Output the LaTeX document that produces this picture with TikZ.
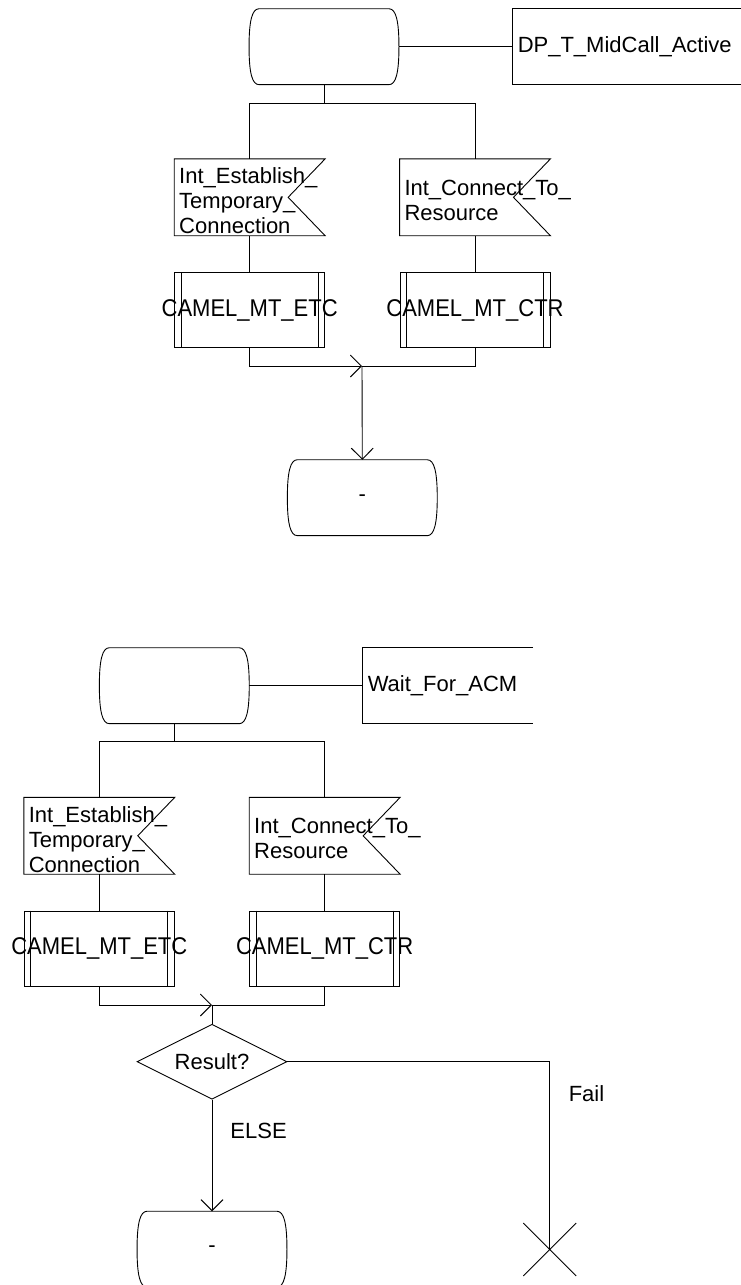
\documentclass[tikz,border=0pt]{standalone}
\usepackage{graphicx}
\usepackage{fontspec}
\setmainfont{Liberation Sans}
\usetikzlibrary{positioning,arrows.meta,shapes.geometric,shapes.misc}

\newcommand{\proctext}[1]{\makebox[0pt]{\scalebox{1}[1.1]{#1}}}

\begin{document}
\begin{tikzpicture}[
  x=1pt, y=-1pt,
  font=\fontsize{22}{25}\selectfont,
  line width=0.9pt,
  stsym/.style={rectangle, minimum width=149, minimum height=75, inner sep=0pt},
  nameb/.style={rectangle, minimum height=75, inner xsep=5pt, inner ysep=0pt,
    text width=#1, align=left, anchor=west},
  insig/.style={rectangle, minimum width=150, minimum height=76,
    inner xsep=4.5pt, inner ysep=0pt, text width=141pt, align=left},
  proc/.style={draw, rectangle, minimum width=150, minimum height=75, inner sep=0pt},
  dec/.style={draw, diamond, aspect=2, minimum width=150, minimum height=75,
    inner sep=1pt},
  endx/.style={draw, cross out, minimum size=52, inner sep=0pt},
  lbl/.style={inner sep=0pt, anchor=west},
  arr/.style={-{Straight Barb[length=11pt, width=22pt]}}
]
\useasboundingbox (0,0) rectangle (740,1285);

% Upper part
\node[stsym] (s1) at (324,46.7) {};
\node[nameb=219pt] (b1) at (512.3,46.7) {DP\_T\_MidCall\_Active};
\coordinate (j1) at (324,103.3);
\node[insig] (in1a) at (249.7,197.3)
  {\rule{0pt}{23pt}Int\_Establish\_\\Temporary\_\\Connection};
\node[insig] (in1b) at (475,197.3) {\rule{0pt}{21pt}Int\_Connect\_To\_\\Resource};
\node[proc] (pr1a) at (249.7,310) {\proctext{CAMEL\_MT\_ETC}};
\node[proc] (pr1b) at (475,310) {\proctext{CAMEL\_MT\_CTR}};
\coordinate (m1) at (362,366);
\node[stsym] (s2) at (362.3,497.7) {-};

% Lower part
\node[stsym] (s3) at (174.3,685.7) {};
\node[nameb=160pt] (b2) at (362.3,685.7) {Wait\_For\_ACM};
\coordinate (j2) at (174.3,741.7);
\node[insig] (in2a) at (99.3,835.8)
  {\rule{0pt}{23pt}Int\_Establish\_\\Temporary\_\\Connection};
\node[insig] (in2b) at (324.7,835.8) {\rule{0pt}{21pt}Int\_Connect\_To\_\\Resource};
\node[proc] (pr2a) at (99.3,948.5) {\proctext{CAMEL\_MT\_ETC}};
\node[proc] (pr2b) at (324.7,948.5) {\proctext{CAMEL\_MT\_CTR}};
\coordinate (m2) at (212,1005);
\node[dec] (d1) at (212,1061.7) {Result?};
\node[endx] (x1) at (549.8,1249.5) {};
\node[stsym] (s4) at (212,1249.2) {-};
\node[lbl] (l1) at (230,1131) {ELSE};
\node[lbl] (l2) at (568.3,1094) {Fail};

% State outlines
\foreach \s in {s1,s2,s3,s4}
  \draw ([xshift=10pt]\s.north west) -- ([xshift=-10pt]\s.north east)
    .. controls ([xshift=-3pt]\s.north east) and ([yshift=-12pt]\s.north east) .. (\s.east)
    .. controls ([yshift=12pt]\s.south east) and ([xshift=-3pt]\s.south east) .. ([xshift=-10pt]\s.south east)
    -- ([xshift=10pt]\s.south west)
    .. controls ([xshift=3pt]\s.south west) and ([yshift=12pt]\s.south west) .. (\s.west)
    .. controls ([yshift=-12pt]\s.north west) and ([xshift=3pt]\s.north west) .. ([xshift=10pt]\s.north west);

% Input outlines
\foreach \i in {in1a,in1b,in2a,in2b}
  \draw (\i.north west) -- (\i.north east) -- ([xshift=-37pt]\i.east)
    -- (\i.south east) -- (\i.south west) -- cycle;

% Procedure side bars
\foreach \p in {pr1a,pr1b,pr2a,pr2b}
  \draw ([xshift=7pt]\p.north west) -- ([xshift=7pt]\p.south west)
    ([xshift=-7pt]\p.north east) -- ([xshift=-7pt]\p.south east);

% Name boxes, open at the right
\foreach \b in {b1,b2}
  \draw (\b.north east) -- (\b.north west) -- (\b.south west) -- (\b.south east);

% Edges, upper part
\draw (s1.east) -- (b1.west);
\draw (s1.south) -- (j1);
\draw (in1a.north) |- (j1) -| (in1b.north);
\draw (in1a.south) -- (pr1a.north);
\draw (in1b.south) -- (pr1b.north);
\draw[arr] (pr1a.south) |- (m1);
\draw (pr1b.south) |- (m1);
\draw[arr] (m1) -- (s2.north);

% Edges, lower part
\draw (s3.east) -- (b2.west);
\draw (s3.south) -- (j2);
\draw (in2a.north) |- (j2) -| (in2b.north);
\draw (in2a.south) -- (pr2a.north);
\draw (in2b.south) -- (pr2b.north);
\draw[arr] (pr2a.south) |- (m2);
\draw (pr2b.south) |- (m2);
\draw (m2) -- (d1.north);
\draw[arr] (d1.south) -- (s4.north);
\draw (d1.east) -| (x1.center);
\end{tikzpicture}
\end{document}
